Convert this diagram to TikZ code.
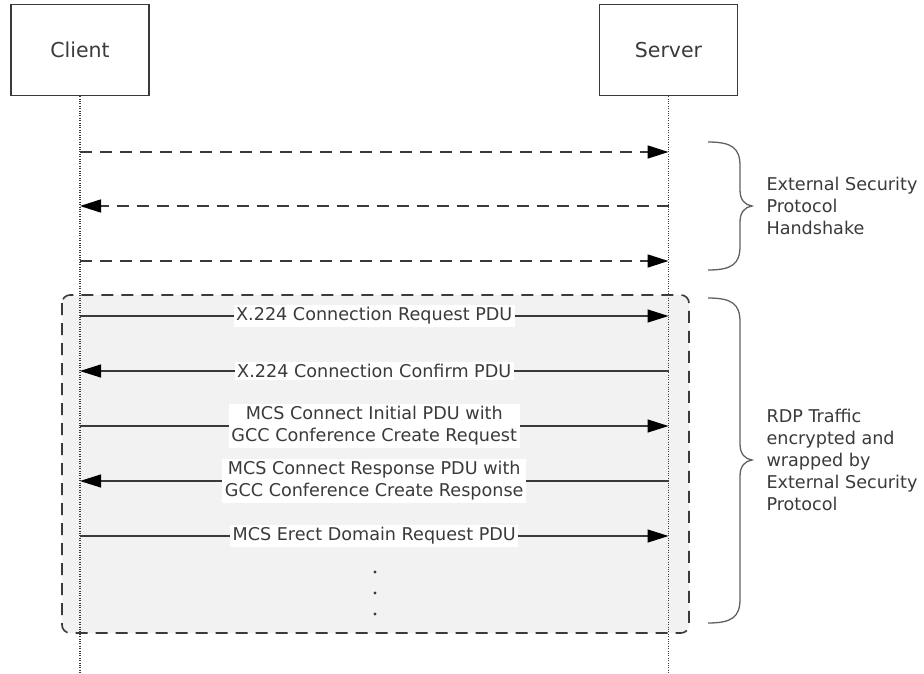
\documentclass[tikz,border=0pt]{standalone}
\usepackage{fontspec}
\setmainfont{DejaVu Sans}
\usetikzlibrary{arrows.meta}
\definecolor{ink}{HTML}{3A3A3A}
\definecolor{boxgray}{HTML}{F2F2F2}
\begin{document}
\begin{tikzpicture}[x=1pt,y=-1pt,
  font=\fontsize{17.6}{22}\selectfont, text=ink,
  actor/.style={draw=ink, line width=1.2pt, fill=white, minimum width=138pt, minimum height=91pt, inner sep=0pt, font=\fontsize{20.5}{24}\selectfont},
  life/.style={draw=ink, line width=1.3pt, dash pattern=on 1pt off 1.4pt},
  tip/.style={-{Triangle[length=21pt,width=13pt,color=black]}},
  hs/.style={draw=ink, line width=1.6pt, dash pattern=on 12pt off 8pt, tip},
  msg/.style={draw=ink, line width=1.2pt, tip},
  lbl/.style={fill=white, inner sep=2.5pt, align=center},
  brace/.style={draw=ink!80, line width=1.3pt},
  note/.style={anchor=west, align=left}]
\useasboundingbox (0,0) rectangle (924,673);
% traffic box
\draw[fill=boxgray, draw=ink, line width=1.6pt, dash pattern=on 12pt off 8pt, rounded corners=8pt] (62,295) rectangle (689,633);
% actors
\node[actor] (client) at (80,50) {Client};
\node[actor] (server) at (668.5,50) {Server};
\coordinate (cend) at (80,673);
\coordinate (send) at (668.5,673);
\draw[life] (client.south) -- (cend);
\draw[life] (server.south) -- (send);
% handshake
\coordinate (c1) at (80,152); \coordinate (s1) at (668.5,152);
\coordinate (c2) at (80,206); \coordinate (s2) at (668.5,206);
\coordinate (c3) at (80,261); \coordinate (s3) at (668.5,261);
\draw[hs] (c1) -- (s1);
\draw[hs] (s2) -- (c2);
\draw[hs] (c3) -- (s3);
% messages
\coordinate (c4) at (80,316); \coordinate (s4) at (668.5,316);
\coordinate (c5) at (80,371); \coordinate (s5) at (668.5,371);
\coordinate (c6) at (80,426); \coordinate (s6) at (668.5,426);
\coordinate (c7) at (80,481); \coordinate (s7) at (668.5,481);
\coordinate (c8) at (80,536); \coordinate (s8) at (668.5,536);
\draw[msg] (c4) -- node[lbl] (m1) {X.224 Connection Request PDU} (s4);
\draw[msg] (s5) -- node[lbl] (m2) {X.224 Connection Confirm PDU} (c5);
\draw[msg] (c6) -- node[lbl] (m3) {MCS Connect Initial PDU with\\GCC Conference Create Request} (s6);
\draw[msg] (s7) -- node[lbl] (m4) {MCS Connect Response PDU with\\GCC Conference Create Response} (c7);
\draw[msg] (c8) -- node[lbl] (m5) {MCS Erect Domain Request PDU} (s8);
% dots
\foreach \yy/\nm in {572/d1,593/d2,614/d3} \fill[ink] (375,\yy) circle (1.6pt);
% braces
\draw[brace] (708,142) .. controls (732,142) and (740,148) .. (740,166) -- (740,190)
  .. controls (740,200) and (745,205) .. (752,206)
  .. controls (745,207) and (740,212) .. (740,222) -- (740,246)
  .. controls (740,264) and (732,270) .. (708,270);
\node[note] (hsnote) at (763,206) {External Security\\Protocol\\Handshake};
\draw[brace] (708,298) .. controls (732,298) and (740,304) .. (740,322) -- (740,444)
  .. controls (740,454) and (745,459) .. (752,460)
  .. controls (745,461) and (740,466) .. (740,476) -- (740,599)
  .. controls (740,617) and (732,623) .. (708,623);
\node[note] (rdpnote) at (763,460) {RDP Traffic\\encrypted and\\wrapped by\\External Security\\Protocol};
\end{tikzpicture}
\end{document}
